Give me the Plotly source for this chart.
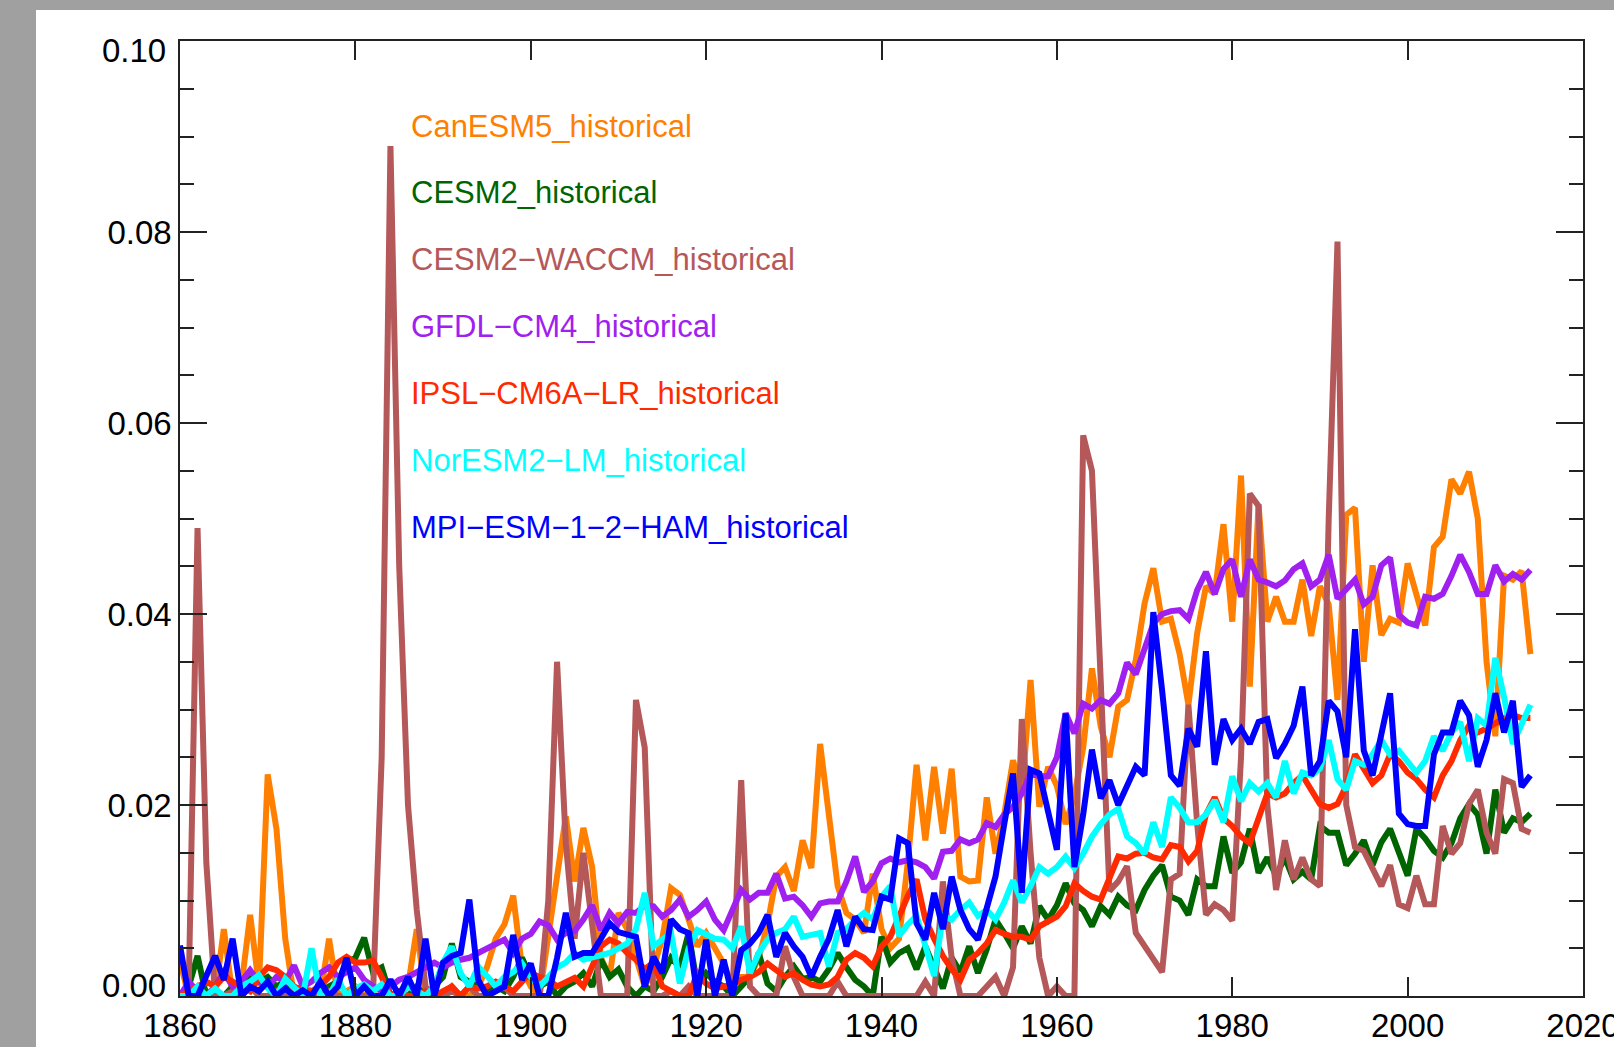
import plotly.graph_objects as go

start_year = 1860

names = ["CanESM5_historical", "CESM2_historical", "CESM2\u2212WACCM_historical",
         "GFDL\u2212CM4_historical", "IPSL\u2212CM6A\u2212LR_historical", "NorESM2\u2212LM_historical",
         "MPI\u2212ESM\u22121\u22122\u2212HAM_historical"]

canesm5 = [
    0.0036, 0.0, 0.0, 0.0005, 0.0, 0.007, 0.0, 0.001, 0.0085, 0.001,
    0.0232, 0.0175, 0.006, 0.0, 0.001, 0.0005, 0.0, 0.006, 0.0, 0.0005,
    0.001, 0.0, 0.0005, 0.001, 0.0, 0.0, 0.001, 0.007, 0.0, 0.0,
    0.0, 0.001, 0.0, 0.0, 0.001, 0.003, 0.006, 0.0075, 0.0105, 0.003,
    0.001, 0.0, 0.006, 0.012, 0.0188, 0.012, 0.0176, 0.0135, 0.004, 0.002,
    0.0087, 0.007, 0.004, 0.001, 0.003, 0.006, 0.0113, 0.0106, 0.008, 0.0052,
    0.0066, 0.005, 0.0034, 0.001, 0.002, 0.002, 0.004, 0.0075, 0.0125, 0.0135,
    0.011, 0.0163, 0.0134, 0.0264, 0.019, 0.0115, 0.0087, 0.008, 0.0066, 0.0128,
    0.007, 0.005, 0.006, 0.014, 0.0242, 0.0163, 0.024, 0.017, 0.0238, 0.0125,
    0.012, 0.0121, 0.0208, 0.0149, 0.019, 0.0247, 0.021, 0.0331, 0.0198, 0.024,
    0.022, 0.018, 0.021, 0.026, 0.0343, 0.0282, 0.025, 0.0303, 0.031, 0.0352,
    0.0411, 0.0448, 0.0392, 0.0395, 0.0358, 0.0305, 0.038, 0.0429, 0.0421, 0.0494,
    0.0392, 0.0545, 0.0324, 0.0515, 0.0392, 0.0418, 0.0392, 0.0392, 0.0436, 0.0377,
    0.0429, 0.041, 0.031, 0.0504, 0.0511, 0.035, 0.0451, 0.0378, 0.0395, 0.0391,
    0.0453, 0.0418, 0.0388, 0.047, 0.0481, 0.0541, 0.0526, 0.0549, 0.05, 0.035,
    0.0272, 0.044, 0.0436, 0.0445, 0.0358,
]

cesm2 = [
    0.0, 0.001, 0.0042, 0.0, 0.0005, 0.0, 0.001, 0.0, 0.002, 0.0015,
    0.002, 0.001, 0.0015, 0.0005, 0.001, 0.0, 0.0005, 0.001, 0.0015, 0.0035,
    0.004, 0.0061, 0.0025, 0.003, 0.0, 0.0005, 0.0, 0.001, 0.0, 0.001,
    0.002, 0.0055, 0.002, 0.0015, 0.001, 0.0005, 0.001, 0.0005, 0.002, 0.004,
    0.002, 0.001, 0.0015, 0.0, 0.001, 0.0015, 0.0024, 0.001, 0.0038, 0.002,
    0.0028, 0.001, 0.0, 0.001, 0.0005, 0.002, 0.004, 0.003, 0.0066, 0.001,
    0.0024, 0.0015, 0.001, 0.0, 0.001, 0.002, 0.0045, 0.0013, 0.0005, 0.002,
    0.0031, 0.0018, 0.002, 0.0015, 0.0028, 0.0045, 0.003, 0.0017, 0.001, 0.0,
    0.0062, 0.0035, 0.0045, 0.005, 0.0028, 0.0052, 0.003, 0.0008, 0.004, 0.0025,
    0.0052, 0.0024, 0.0049, 0.008, 0.0066, 0.005, 0.0073, 0.0055, 0.0094, 0.008,
    0.0095, 0.0118, 0.0097, 0.009, 0.0073, 0.0094, 0.0085, 0.0104, 0.0095, 0.009,
    0.0111, 0.0126, 0.0137, 0.0104, 0.01, 0.0085, 0.0122, 0.0115, 0.0115, 0.0167,
    0.0129, 0.014, 0.0175, 0.0129, 0.0145, 0.0126, 0.0145, 0.0122, 0.013, 0.0122,
    0.0178, 0.0171, 0.0171, 0.0137, 0.0149, 0.0163, 0.0137, 0.0161, 0.0175, 0.0149,
    0.0126, 0.0175, 0.0165, 0.0152, 0.0145, 0.016, 0.0186, 0.0201, 0.019, 0.0149,
    0.0216, 0.0171, 0.0186, 0.0182, 0.0191,
]

cesm2_waccm = [
    0.0, 0.001, 0.049, 0.014, 0.0, 0.0, 0.0005, 0.0, 0.001, 0.0,
    0.0, 0.0005, 0.0, 0.001, 0.0, 0.0, 0.0, 0.0005, 0.0, 0.0,
    0.0, 0.0, 0.0, 0.025, 0.089, 0.045, 0.020, 0.009, 0.001, 0.0,
    0.0, 0.0005, 0.0, 0.001, 0.0, 0.0, 0.0005, 0.001, 0.0, 0.0,
    0.0, 0.0, 0.01, 0.035, 0.016, 0.006, 0.015, 0.007, 0.0, 0.0,
    0.0, 0.0, 0.031, 0.026, 0.0, 0.0, 0.0005, 0.0, 0.001, 0.0,
    0.0, 0.0, 0.0, 0.0, 0.0226, 0.001, 0.0, 0.0, 0.0, 0.0052,
    0.002, 0.0, 0.0, 0.0, 0.0, 0.0015, 0.0, 0.0, 0.0, 0.0,
    0.0, 0.0, 0.0, 0.0, 0.0, 0.0015, 0.0, 0.012, 0.004, 0.0,
    0.0, 0.0, 0.001, 0.002, 0.0, 0.003, 0.029, 0.015, 0.004, 0.0,
    0.001, 0.0, 0.0, 0.0587, 0.055, 0.031, 0.011, 0.012, 0.0136, 0.0066,
    0.0053, 0.004, 0.0025, 0.0122, 0.0128, 0.0305, 0.018, 0.0085, 0.0096, 0.009,
    0.0079, 0.025, 0.0526, 0.0513, 0.02, 0.0111, 0.0163, 0.0122, 0.0145, 0.0122,
    0.0115, 0.05, 0.079, 0.02, 0.0156, 0.0152, 0.0135, 0.0115, 0.0137, 0.0096,
    0.0092, 0.0126, 0.0096, 0.0096, 0.0178, 0.0149, 0.016, 0.0201, 0.0216, 0.0171,
    0.0149, 0.0227, 0.0223, 0.0175, 0.0171,
]

gfdl_cm4 = [
    0.0, 0.0015, 0.0005, 0.0, 0.001, 0.0025, 0.001, 0.0015, 0.0027, 0.0015,
    0.001, 0.002, 0.0015, 0.0032, 0.001, 0.0015, 0.0024, 0.003, 0.002, 0.0025,
    0.003, 0.0017, 0.001, 0.0005, 0.001, 0.0017, 0.002, 0.0025, 0.003, 0.0035,
    0.003, 0.0035, 0.0038, 0.004, 0.0045, 0.005, 0.0055, 0.0059, 0.0045, 0.006,
    0.0065, 0.0078, 0.0074, 0.0059, 0.0066, 0.0068, 0.008, 0.0095, 0.0069, 0.0087,
    0.0076, 0.0088, 0.0087, 0.0095, 0.0094, 0.0083, 0.009, 0.0101, 0.0083, 0.009,
    0.0099, 0.008, 0.0069, 0.009, 0.0111, 0.0101, 0.0108, 0.0108, 0.0128, 0.0102,
    0.0104, 0.0095, 0.0083, 0.0097, 0.0099, 0.0099, 0.012, 0.0146, 0.0109, 0.012,
    0.0139, 0.0144, 0.014, 0.0142, 0.014, 0.0135, 0.0123, 0.0151, 0.0152, 0.0164,
    0.016, 0.0164, 0.0181, 0.0177, 0.019, 0.0198, 0.0212, 0.0233, 0.023, 0.023,
    0.025, 0.0296, 0.0275, 0.0306, 0.0301, 0.031, 0.0306, 0.0317, 0.0349, 0.0337,
    0.0365, 0.039, 0.04, 0.0403, 0.0404, 0.0395, 0.0425, 0.0444, 0.0421, 0.0447,
    0.0457, 0.0418, 0.0457, 0.0436, 0.0433, 0.0429, 0.0435, 0.0447, 0.0453, 0.0429,
    0.0436, 0.0462, 0.0416, 0.0425, 0.0436, 0.041, 0.0418, 0.0451, 0.0459, 0.0399,
    0.0391, 0.0388, 0.0418, 0.0416, 0.0421, 0.044, 0.0462, 0.0444, 0.0421, 0.0421,
    0.0451, 0.0434, 0.0442, 0.0436, 0.0446,
]

ipsl_cm6a = [
    0.0, 0.0005, 0.001, 0.0015, 0.001, 0.002, 0.0015, 0.001, 0.0005, 0.002,
    0.003, 0.0027, 0.002, 0.001, 0.0005, 0.0005, 0.001, 0.002, 0.0035, 0.0041,
    0.0035, 0.0035, 0.0037, 0.002, 0.0, 0.0005, 0.0, 0.0, 0.0005, 0.0,
    0.0005, 0.001, 0.0, 0.001, 0.0008, 0.001, 0.0015, 0.001, 0.0005, 0.0015,
    0.0024, 0.002, 0.0017, 0.001, 0.0015, 0.0019, 0.001, 0.003, 0.0052, 0.0059,
    0.0055, 0.0045, 0.0038, 0.0028, 0.0035, 0.001, 0.0005, 0.0, 0.0, 0.0024,
    0.0013, 0.0008, 0.001, 0.0012, 0.0017, 0.002, 0.0025, 0.0034, 0.0027, 0.002,
    0.0024, 0.0017, 0.0012, 0.001, 0.0012, 0.002, 0.0038, 0.0045, 0.004, 0.0031,
    0.0052, 0.0062, 0.0083, 0.0105, 0.0122, 0.008, 0.006, 0.0042, 0.0028, 0.0017,
    0.0038, 0.0045, 0.0055, 0.0069, 0.0065, 0.0062, 0.0062, 0.0059, 0.0073, 0.0078,
    0.0083, 0.0094, 0.0118, 0.011, 0.0104, 0.0101, 0.0125, 0.0146, 0.0144, 0.0149,
    0.015, 0.0145, 0.0143, 0.0158, 0.0156, 0.0141, 0.0152, 0.019, 0.0208, 0.0186,
    0.0178, 0.0167, 0.016, 0.0186, 0.0212, 0.0208, 0.0212, 0.0223, 0.0231, 0.0216,
    0.0201, 0.0197, 0.0201, 0.022, 0.0253, 0.0238, 0.0223, 0.0231, 0.0253, 0.0246,
    0.0234, 0.0227, 0.0216, 0.0208, 0.0231, 0.0246, 0.0268, 0.0283, 0.0276, 0.028,
    0.0285, 0.0291, 0.0294, 0.0291, 0.0291,
]

noresm2_lm = [
    0.0, 0.0, 0.001, 0.0, 0.0008, 0.0, 0.0, 0.001, 0.0015, 0.0022,
    0.0008, 0.0, 0.0018, 0.0008, 0.0, 0.005, 0.0, 0.0, 0.0018, 0.0,
    0.0008, 0.0012, 0.0005, 0.0012, 0.0, 0.0, 0.001, 0.0005, 0.0, 0.001,
    0.0035, 0.0052, 0.0024, 0.001, 0.0031, 0.0021, 0.001, 0.002, 0.0025, 0.0034,
    0.002, 0.001, 0.002, 0.003, 0.0035, 0.0045, 0.0038, 0.004, 0.0043, 0.0045,
    0.005, 0.0055, 0.007, 0.0108, 0.0052, 0.006, 0.0066, 0.0013, 0.005, 0.0069,
    0.0065, 0.006, 0.0059, 0.005, 0.0073, 0.0024, 0.0045, 0.0059, 0.0066, 0.007,
    0.0083, 0.0062, 0.0064, 0.0066, 0.0031, 0.0066, 0.007, 0.008, 0.0087, 0.008,
    0.0104, 0.0115, 0.0063, 0.0075, 0.0084, 0.0052, 0.0021, 0.0084, 0.008, 0.009,
    0.0098, 0.0084, 0.009, 0.008, 0.0098, 0.0121, 0.0098, 0.0115, 0.0135, 0.0128,
    0.0135, 0.0146, 0.0134, 0.0149, 0.0167, 0.018, 0.019, 0.0196, 0.0167, 0.016,
    0.0149, 0.0182, 0.0156, 0.0208, 0.0197, 0.0182, 0.0182, 0.019, 0.0205, 0.0182,
    0.023, 0.0204, 0.0223, 0.0214, 0.0223, 0.0208, 0.0246, 0.0212, 0.0234, 0.0231,
    0.0238, 0.0268, 0.0227, 0.0216, 0.0246, 0.0242, 0.0253, 0.0268, 0.0253, 0.0257,
    0.0246, 0.0234, 0.0246, 0.0272, 0.0257, 0.0276, 0.0287, 0.0246, 0.0291, 0.0283,
    0.0354, 0.0313, 0.0264, 0.0283, 0.0305,
]

mpi_esm_ham = [
    0.0053, 0.0, 0.0, 0.002, 0.0042, 0.0017, 0.006, 0.0, 0.001, 0.0005,
    0.0015, 0.0, 0.0008, 0.0, 0.0006, 0.0, 0.0015, 0.0, 0.001, 0.004,
    0.0, 0.001, 0.0, 0.0, 0.0017, 0.0, 0.002, 0.0, 0.006, 0.0,
    0.0035, 0.0042, 0.0045, 0.0101, 0.0017, 0.0, 0.0005, 0.001, 0.0064, 0.0017,
    0.0034, 0.0, 0.0, 0.004, 0.0087, 0.0041, 0.0045, 0.0045, 0.006, 0.0076,
    0.0067, 0.0065, 0.0062, 0.001, 0.0041, 0.0024, 0.008, 0.007, 0.0066, 0.0,
    0.0059, 0.0, 0.0038, 0.0, 0.0048, 0.0055, 0.0066, 0.0085, 0.0041, 0.0066,
    0.0052, 0.0041, 0.002, 0.0041, 0.006, 0.009, 0.0052, 0.0083, 0.007, 0.0069,
    0.0104, 0.0101, 0.0165, 0.016, 0.0076, 0.0059, 0.0108, 0.007, 0.0125, 0.009,
    0.007, 0.0059, 0.009, 0.0125, 0.018, 0.0233, 0.0108, 0.0237, 0.0233, 0.019,
    0.0153, 0.0296, 0.0135, 0.019, 0.0258, 0.0207, 0.0226, 0.02, 0.022, 0.024,
    0.0231, 0.0402, 0.032, 0.0231, 0.022, 0.028, 0.0261, 0.0361, 0.0242, 0.029,
    0.0268, 0.028, 0.0264, 0.0287, 0.029, 0.0249, 0.0264, 0.0283, 0.0324, 0.0231,
    0.0246, 0.0309, 0.0298, 0.025, 0.0384, 0.0257, 0.0231, 0.0272, 0.0317, 0.0191,
    0.018, 0.0178, 0.0178, 0.0253, 0.0276, 0.0276, 0.0309, 0.0294, 0.024, 0.0268,
    0.0317, 0.0276, 0.0309, 0.0219, 0.0231,
]

series = [canesm5, cesm2, cesm2_waccm, gfdl_cm4, ipsl_cm6a, noresm2_lm, mpi_esm_ham]
colors = ["#ff7f00", "#006400", "#b5585a", "#a020f0", "#ff2a00", "#00ffff", "#0000ff"]

x_ticks = [1860, 1880, 1900, 1920, 1940, 1960, 1980, 2000, 2020]
y_ticks = [0.0, 0.02, 0.04, 0.06, 0.08, 0.10]
y_tick_text = ["", "0.02", "0.04", "0.06", "0.08", ""]

legend_x = 1886.1
legend_y = [0.0910, 0.0841, 0.0771, 0.0701, 0.0631, 0.0561, 0.0491]

FONT = "Liberation Sans, Arial, Helvetica, sans-serif"
AXC = "#222222"

fig = go.Figure()
for name, vals, col in zip(names, series, colors):
    yrs = list(range(start_year, start_year + len(vals)))
    fig.add_trace(go.Scatter(x=yrs, y=vals, mode="lines", name=name,
                             line=dict(color=col, width=6), showlegend=False))

W, H = 1614, 1047
ML, MR, MT, MB = 180, 31, 41, 51
pw, ph = W - ML - MR, H - MT - MB

fig.update_layout(
    width=W, height=H,
    margin=dict(l=ML, r=MR, t=MT, b=MB, autoexpand=False),
    paper_bgcolor="#a0a0a0", plot_bgcolor="white",
    showlegend=False,
    font=dict(family=FONT, color="black"),
    shapes=[dict(type="rect", xref="paper", yref="paper",
                 x0=(36 - ML) / pw, x1=(W + 40 - ML) / pw,
                 y0=(H - MB - H - 40) / ph, y1=(H - MB - 10) / ph,
                 fillcolor="white", line=dict(width=0), layer="below")],
)

fig.update_xaxes(range=[1860, 2020], tickvals=x_ticks, ticks="inside", ticklen=19,
                 tickwidth=1.5, tickcolor=AXC, showline=True, linecolor=AXC, linewidth=1.5,
                 mirror="ticks", showgrid=False, zeroline=False, ticklabeloverflow="allow",
                 tickfont=dict(size=33, family=FONT, color="black"))
fig.update_yaxes(range=[0, 0.1], tickvals=y_ticks, ticktext=y_tick_text, ticks="inside",
                 ticklen=27, tickwidth=1.5, tickcolor=AXC, showline=True, linecolor=AXC,
                 linewidth=1.5, mirror="ticks", showgrid=False, zeroline=False,
                 tickfont=dict(size=33, family=FONT, color="black"),
                 minor=dict(dtick=0.005, ticks="inside", ticklen=14, tickwidth=1.5,
                            tickcolor=AXC, showgrid=False))

# end labels of the y axis sit slightly inside the frame in the original
fig.add_annotation(xref="paper", yref="y", x=0, y=0.10, text="0.10", showarrow=False,
                   xanchor="right", yanchor="middle", xshift=-12, yshift=-9,
                   font=dict(size=33, family=FONT, color="black"))
fig.add_annotation(xref="paper", yref="y", x=0, y=0.0, text="0.00", showarrow=False,
                   xanchor="right", yanchor="middle", xshift=-12, yshift=11,
                   font=dict(size=33, family=FONT, color="black"))

for name, col, ly in zip(names, colors, legend_y):
    fig.add_annotation(xref="x", yref="y", x=legend_x, y=ly, text=name, showarrow=False,
                       xanchor="left", yanchor="middle",
                       font=dict(size=31, family=FONT, color=col))

fig.write_html("out.html")
